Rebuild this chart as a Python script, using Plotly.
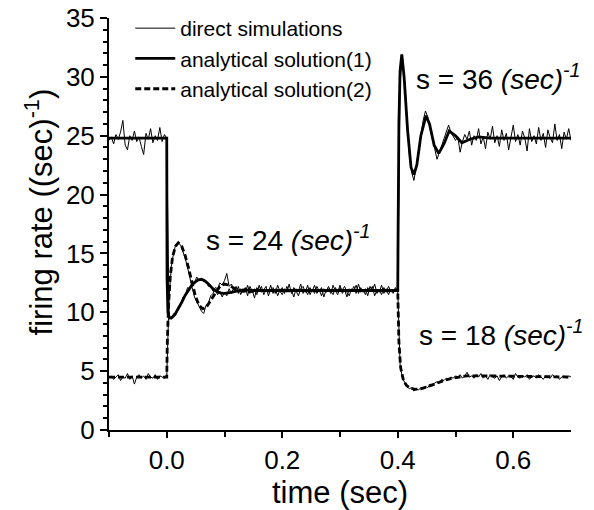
import numpy as np
import plotly.graph_objects as go

# direct simulations, sampled every 4 ms starting at t = -0.1 s
sim_step = 0.004
sim_start = -0.1

sim_1 = [
    24.6, 24.9, 24.3, 25.1, 24.7, 25.3, 26.3, 24.2, 23.8, 25.0,
    24.6, 25.4, 24.5, 24.9, 24.1, 23.4, 25.2, 24.7, 25.6, 24.4,
    25.0, 24.6, 25.7, 24.5, 25.1, 24.8, 9.7, 9.4, 9.9, 9.8,
    10.5, 10.6, 11.3, 11.4, 12.1, 12.0, 12.6, 12.5, 13.0, 12.7,
    12.9, 12.6, 12.7, 12.2, 12.3, 11.8, 11.9, 11.5, 11.8, 11.3,
    11.7, 11.4, 12.0, 11.6, 12.1, 11.7, 12.2, 11.5, 12.0, 11.7,
    12.3, 11.6, 11.9, 11.2, 12.1, 11.8, 12.2, 11.5, 11.9, 11.7,
    12.3, 11.6, 12.0, 11.4, 11.9, 12.1, 11.6, 12.2, 11.7, 11.9,
    11.3, 12.0, 11.8, 12.4, 11.6, 11.9, 11.5, 12.1, 11.8, 12.3,
    11.6, 11.9, 11.4, 12.0, 11.7, 12.2, 11.8, 11.5, 12.1, 11.7,
    12.3, 11.6, 11.9, 11.3, 12.0, 11.8, 12.2, 11.6, 12.4, 11.7,
    11.9, 11.5, 12.1, 11.8, 12.2, 11.4, 11.9, 11.7, 12.3, 11.6,
    12.0, 11.5, 11.9, 11.7, 12.1, 11.8, 29.5, 31.8, 29.6, 26.0,
    23.4, 21.9, 21.2, 22.4, 23.8, 25.2, 26.3, 27.1, 26.6, 25.6,
    24.6, 23.9, 23.0, 23.6, 24.1, 24.6, 25.2, 25.9, 25.3, 25.0,
    24.6, 24.9, 23.6, 24.5, 25.1, 24.7, 25.4, 24.2, 25.0, 24.6,
    25.6, 24.3, 24.9, 23.9, 25.3, 24.7, 25.8, 24.4, 25.0, 24.1,
    25.5, 24.6, 25.2, 23.8, 24.9, 25.9, 24.5, 25.1, 24.2, 25.4,
    24.8, 23.7, 25.6, 24.5, 25.0, 24.3, 25.7, 24.6, 25.2, 24.0,
    25.5, 24.8, 24.4, 26.0, 24.6, 25.1, 23.9, 25.3, 24.7, 25.6,
    24.6,
]

sim_2 = [
    4.4, 4.6, 4.3, 4.5, 4.7, 4.2, 4.5, 4.4, 4.8, 4.3,
    4.6, 3.9, 4.5, 4.7, 4.4, 4.6, 4.3, 4.8, 4.5, 4.4,
    4.7, 4.3, 4.6, 4.5, 4.4, 4.5, 11.2, 13.9, 15.1, 15.8,
    15.9, 15.7, 15.2, 14.6, 13.8, 12.8, 12.1, 11.3, 10.9, 10.4,
    10.1, 9.9, 10.6, 10.7, 11.4, 11.6, 12.1, 12.0, 12.5, 12.3,
    12.7, 13.3, 12.2, 12.4, 11.9, 12.2, 11.6, 12.0, 11.7, 12.1,
    11.4, 12.2, 11.8, 12.0, 11.5, 12.3, 11.7, 11.9, 12.2, 11.4,
    11.9, 12.1, 11.6, 12.3, 11.8, 11.5, 12.0, 11.7, 12.4, 11.6,
    12.1, 11.8, 11.4, 12.0, 12.2, 11.7, 12.3, 11.5, 11.9, 11.6,
    12.2, 11.8, 12.1, 11.3, 11.9, 12.0, 11.6, 12.3, 11.8, 11.5,
    12.1, 11.9, 12.2, 11.7, 11.4, 12.0, 11.8, 12.3, 11.6, 12.1,
    11.7, 12.0, 11.4, 12.2, 11.8, 12.4, 11.6, 11.9, 11.5, 12.1,
    11.7, 12.2, 11.8, 11.6, 12.0, 11.8, 5.6, 4.4, 4.0, 3.7,
    3.5, 3.6, 3.3, 3.5, 3.4, 3.6, 3.5, 3.7, 3.6, 3.9,
    3.8, 4.0, 4.1, 4.0, 4.3, 4.2, 4.4, 4.3, 4.5, 4.4,
    4.6, 4.5, 4.7, 4.4, 4.6, 4.9, 4.5, 4.6, 4.4, 4.7,
    4.5, 4.8, 4.4, 4.6, 4.3, 4.7, 4.5, 4.4, 4.6, 4.2,
    4.5, 4.7, 4.4, 4.6, 4.5, 4.3, 4.8, 4.5, 4.4, 4.6,
    4.5, 4.7, 4.3, 4.5, 4.6, 4.4, 4.7, 4.5, 4.3, 4.6,
    4.5, 4.4, 4.7, 4.5, 4.6, 4.3, 4.5, 4.6, 4.4, 4.6,
    4.5,
]

# analytical solutions
sol1_t = [-0.1, 0.0, 0.0005, 0.002, 0.005, 0.009, 0.014, 0.02, 0.026, 0.032,
          0.038, 0.044, 0.05, 0.055, 0.06, 0.065, 0.07, 0.076, 0.082, 0.088,
          0.094, 0.1, 0.106, 0.112, 0.12, 0.135, 0.15, 0.4,
          0.4005, 0.402, 0.404, 0.407, 0.411, 0.417, 0.423, 0.428, 0.433, 0.44,
          0.449, 0.455, 0.463, 0.471, 0.48, 0.489, 0.5, 0.511, 0.525, 0.54,
          0.56, 0.7]
sol1_y = [24.8, 24.8, 13.0, 10.0, 9.5, 9.55, 9.8, 10.3, 10.85, 11.45,
          11.95, 12.35, 12.6, 12.75, 12.8, 12.7, 12.5, 12.2, 11.9, 11.72,
          11.62, 11.6, 11.63, 11.7, 11.8, 11.9, 11.85, 11.85,
          16.0, 26.0, 30.5, 31.9, 30.0, 25.5, 22.3, 21.7, 22.5, 25.0,
          26.7, 26.0, 24.2, 23.5, 24.3, 25.4, 25.0, 24.4, 24.7, 24.9,
          24.8, 24.8]

sol2_t = [-0.1, 0.0, 0.001, 0.003, 0.006, 0.01, 0.015, 0.02, 0.026, 0.032,
          0.038, 0.044, 0.05, 0.056, 0.062, 0.068, 0.076, 0.084, 0.092, 0.1,
          0.108, 0.118, 0.13, 0.145, 0.16, 0.4, 0.4005, 0.402, 0.405, 0.41,
          0.415, 0.42, 0.43, 0.44, 0.45, 0.46, 0.47, 0.48, 0.49, 0.5,
          0.52, 0.55, 0.6, 0.7]
sol2_y = [4.5, 4.5, 7.5, 10.5, 13.0, 14.7, 15.6, 15.9, 15.6, 14.8,
          13.7, 12.4, 11.3, 10.6, 10.3, 10.4, 11.0, 11.7, 12.2, 12.4,
          12.3, 12.0, 11.8, 11.75, 11.85, 11.85, 10.5, 7.5, 5.3, 4.2,
          3.8, 3.6, 3.45, 3.5, 3.65, 3.85, 4.05, 4.2, 4.35, 4.45,
          4.6, 4.6, 4.55, 4.5]

labels = [
    (0.065, 16.3, "s = 24"),
    (0.428, 30.0, "s = 36"),
    (0.433, 8.2, "s = 18"),
]

assert len(sim_1) == len(sim_2) == 201
sim_t = sim_start + sim_step * np.arange(len(sim_1))

FONT = "Liberation Sans, Arial, Helvetica, sans-serif"

fig = go.Figure()

# thin noisy lines first so the analytic curves sit on top
fig.add_trace(go.Scatter(x=sim_t, y=sim_1, mode="lines", name="direct simulations",
                         legendgroup="sim", legendrank=1,
                         line=dict(color="black", width=1)))
fig.add_trace(go.Scatter(x=sim_t, y=sim_2, mode="lines", name="direct simulations",
                         legendgroup="sim", showlegend=False,
                         line=dict(color="black", width=1)))
fig.add_trace(go.Scatter(x=sol2_t, y=sol2_y, mode="lines", name="analytical solution(2)",
                         legendrank=3,
                         line=dict(color="black", width=2.8, dash="6px,3px")))
fig.add_trace(go.Scatter(x=sol1_t, y=sol1_y, mode="lines", name="analytical solution(1)",
                         legendrank=2,
                         line=dict(color="black", width=2.8)))

for x, y, txt in labels:
    fig.add_annotation(x=x, y=y, xanchor="left", yanchor="middle", showarrow=False,
                       text=txt + " <i>(sec)<sup>-1</sup></i>",
                       font=dict(family=FONT, size=28, color="black"))

# y title as an annotation so it can sit where the original has it
fig.add_annotation(x=-0.152, y=0.53, xref="paper", yref="paper", textangle=-90,
                   xanchor="center", yanchor="middle",
                   showarrow=False, text="firing rate ((sec)<sup>-1</sup>)",
                   font=dict(family=FONT, size=31, color="black"))

fig.update_xaxes(range=[-0.1, 0.7], tickvals=[0.0, 0.2, 0.4, 0.6],
                 ticktext=["0.0", "0.2", "0.4", "0.6"], automargin=False,
                 ticklabeloverflow="allow",
                 showline=True, linewidth=2, linecolor="black", mirror=False,
                 ticks="outside", ticklen=6, tickwidth=1.5, tickcolor="black",
                 minor=dict(tickvals=[-0.1, 0.1, 0.3, 0.5], ticks="outside",
                            ticklen=5, tickwidth=1.5, tickcolor="black"),
                 showgrid=False, zeroline=False,
                 tickfont=dict(family=FONT, size=26, color="black"),
                 title=dict(text="time (sec)", standoff=6,
                            font=dict(family=FONT, size=31, color="black")))
fig.update_yaxes(range=[0, 35], dtick=5, tick0=0, automargin=False,
                 ticklabeloverflow="allow",
                 showline=True, linewidth=2, linecolor="black",
                 ticks="outside", ticklen=7, tickwidth=1.5, tickcolor="black",
                 minor=dict(dtick=1, ticks="outside", ticklen=4, tickwidth=1.5,
                            tickcolor="black"),
                 showgrid=False, zeroline=False,
                 tickfont=dict(family=FONT, size=26, color="black"))

# the page body adds an 8px margin, so the figure is 8px smaller each way
fig.update_layout(
    width=586, height=502,
    margin=dict(l=101, r=23, t=10, b=80, autoexpand=False),
    paper_bgcolor="white", plot_bgcolor="white",
    showlegend=True,
    legend=dict(x=0.046, y=1.0, yref="container", xanchor="left", yanchor="top",
                bgcolor="rgba(0,0,0,0)", itemwidth=40, tracegroupgap=0,
                font=dict(family=FONT, size=21, color="black")),
)

fig.write_html("out.html")
